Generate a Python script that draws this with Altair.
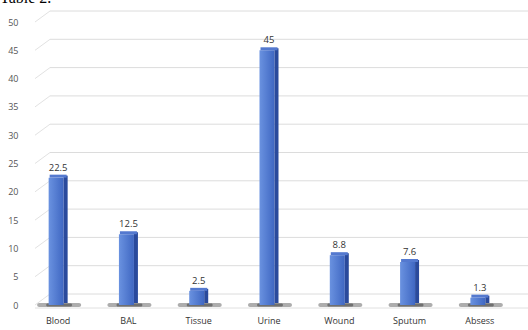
import altair as alt
import pandas as pd

categories = ["Blood", "BAL", "Tissue", "Urine", "Wound", "Sputum", "Absess"]
values = [22.5, 12.5, 2.5, 45, 8.8, 7.6, 1.3]
labels = ["22.5", "12.5", "2.5", "45", "8.8", "7.6", "1.3"]
grid_values = [0, 5, 10, 15, 20, 25, 30, 35, 40, 45, 50]

df = pd.DataFrame({"cat": categories, "val": values, "lab": labels})
gdf = pd.DataFrame({"g": grid_values})

W, H = 492, 283
yscale = alt.Scale(domain=[0, 50], nice=False)
xenc = alt.X("cat:N", sort=categories, scale=alt.Scale(paddingInner=0, paddingOuter=0),
             axis=alt.Axis(title=None, labelAngle=0, domain=False, ticks=False, grid=False,
                           labelPadding=11, labelFont="Open Sans", labelFontSize=9,
                           labelColor="#333333"))
yaxis = alt.Axis(title=None, domain=False, ticks=False, grid=False, labelPadding=5,
                 values=grid_values, labelOverlap=False, labelFont="Open Sans",
                 labelFontSize=9, labelColor="#555555")


def ynum(field):
    return alt.Y(field, scale=yscale, axis=yaxis)


grid_back = alt.Chart(gdf).mark_rule(color="#dcdcdc", strokeWidth=1, yOffset=-11).encode(
    x=alt.value(27), x2=alt.value(W + 13), y=ynum("g:Q"))
grid_diag = alt.Chart(gdf).mark_rule(color="#e2e2e2", strokeWidth=1, y2Offset=-11).encode(
    x=alt.value(12), x2=alt.value(27), y=ynum("g:Q"), y2="g:Q")
floor = alt.Chart(gdf[gdf.g == 0]).mark_rule(color="#e0e0e0", strokeWidth=1, yOffset=3).encode(
    x=alt.value(12), x2=alt.value(W + 13), y=ynum("g:Q"))

shadow = alt.Chart(df).transform_calculate(zero="0").mark_tick(
    color="#4a4a4a", opacity=0.45, size=44, thickness=4, cornerRadius=2, xOffset=1).encode(
    x=xenc, y=ynum("zero:Q"))
shadow_core = alt.Chart(df).transform_calculate(zero="0").mark_tick(
    color="#333333", opacity=0.5, size=26, thickness=3, cornerRadius=1.5, xOffset=1).encode(
    x=xenc, y=ynum("zero:Q"))

grad = alt.Gradient(gradient="linear",
                    stops=[alt.GradientStop(color="#6a92e0", offset=0),
                           alt.GradientStop(color="#3f67c2", offset=1)],
                    x1=0, x2=1, y1=0, y2=0)
bars = alt.Chart(df).mark_bar(size=15, xOffset=-2, color=grad).encode(
    x=xenc, y=ynum("val:Q"))
side = alt.Chart(df).mark_bar(size=4, xOffset=7.5, yOffset=-2, color="#2a4a9c").encode(
    x=xenc, y=ynum("val:Q"))
top = alt.Chart(df).mark_bar(size=17, xOffset=0, y2Offset=-3, color="#5479cf").encode(
    x=xenc, y=ynum("val:Q"), y2="val:Q")
text = alt.Chart(df).mark_text(dy=-10, font="Open Sans", fontSize=9.5, color="#333333").encode(
    x=xenc, y=ynum("val:Q"), text="lab:N")

chart = alt.layer(grid_back, grid_diag, floor, shadow, shadow_core, bars, side, top, text).properties(
    width=W, height=H,
    background="white",
    title=alt.TitleParams("Table 2.", anchor="start", frame="group", font="Liberation Serif",
                          fontSize=16, fontWeight="normal", color="#000000", dx=-23, dy=10,
                          baseline="alphabetic", offset=2),
    autosize=alt.AutoSizeParams(type="none"),
    padding={"left": 23, "top": 22, "right": 13, "bottom": 25},
).configure_view(stroke=None)

chart.save("out.html", embed_options={"renderer": "svg", "actions": False})
